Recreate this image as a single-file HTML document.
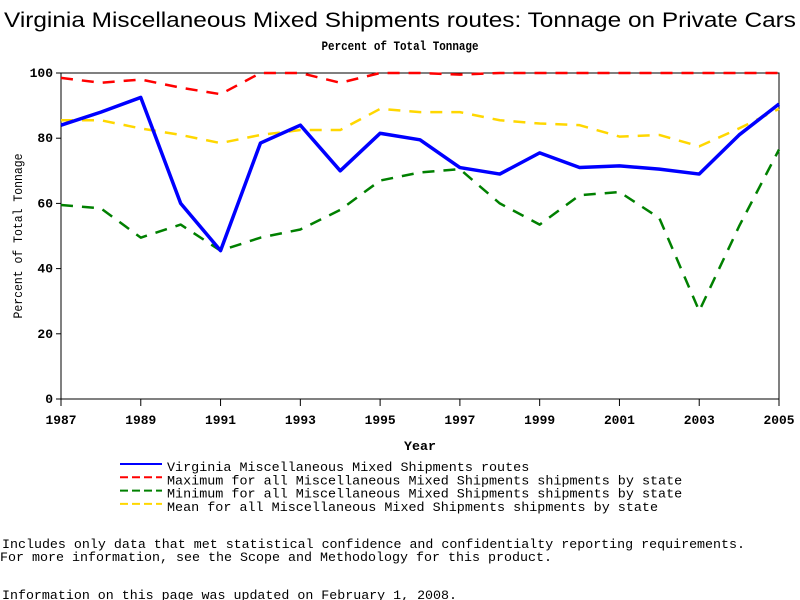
<!DOCTYPE html>
<html><head><meta charset="utf-8"><style>
body{margin:0;background:#fff;}
svg{display:block;}
text{font-family:"Liberation Sans",sans-serif;fill:#000;}
.m{font-family:"Liberation Mono",monospace;font-size:13px;}
</style></head><body>
<svg id="chart" width="800" height="600">
<text x="400" y="27" text-anchor="middle" font-size="21" textLength="792" lengthAdjust="spacingAndGlyphs">Virginia Miscellaneous Mixed Shipments routes: Tonnage on Private Cars</text>
<text x="400" y="50" text-anchor="middle" class="m" font-size="12" font-weight="bold" textLength="157" lengthAdjust="spacingAndGlyphs">Percent of Total Tonnage</text>
<g id="axes"></g>
<g id="series"></g>
<text x="420" y="450" text-anchor="middle" class="m" font-weight="bold" textLength="32" lengthAdjust="spacingAndGlyphs">Year</text>
<text transform="translate(22,236) rotate(-90)" text-anchor="middle" class="m" textLength="165" lengthAdjust="spacingAndGlyphs">Percent of Total Tonnage</text>
<g id="legend"></g>
<text x="2" y="548" class="m" textLength="743" lengthAdjust="spacingAndGlyphs">Includes only data that met statistical confidence and confidentialty reporting requirements.</text>
<text x="0" y="561" class="m" textLength="552" lengthAdjust="spacingAndGlyphs">For more information, see the Scope and Methodology for this product.</text>
<text x="2" y="599" class="m" textLength="455" lengthAdjust="spacingAndGlyphs">Information on this page was updated on February 1, 2008.</text>
</svg>
<script>
const years=[1987,1988,1989,1990,1991,1992,1993,1994,1995,1996,1997,1998,1999,2000,2001,2002,2003,2004,2005];
const xTicks=[1987,1989,1991,1993,1995,1997,1999,2001,2003,2005];
const yTicks=[0,20,40,60,80,100];
const virginia=[84,88,92.5,60,45.5,78.5,84,70,81.5,79.5,71,69,75.5,71,71.5,70.5,69,81,90.5];
const maxVals=[98.5,97,98,95.5,93.5,100,100,97,100,100,99.5,100,100,100,100,100,100,100,100];
const minVals=[59.5,58.5,49.5,53.5,45.5,49.5,52,58,67,69.5,70.5,60,53.5,62.5,63.5,55.5,27,53,76.5];
const meanVals=[85.5,85.5,83,81,78.5,81,82.5,82.5,89,88,88,85.5,84.5,84,80.5,81,77.5,83,89];
const legendLabels=["Virginia Miscellaneous Mixed Shipments routes","Maximum for all Miscellaneous Mixed Shipments shipments by state","Minimum for all Miscellaneous Mixed Shipments shipments by state","Mean for all Miscellaneous Mixed Shipments shipments by state"];
const NS="http://www.w3.org/2000/svg";
const X0=61,X1=779,Y0=399,Y1=73;
const xs=y=>X0+(y-1987)*(X1-X0)/18;
const ys=v=>Y0-v*(Y0-Y1)/100;
function mk(tag,attrs,parent){const e=document.createElementNS(NS,tag);for(const k in attrs)e.setAttribute(k,attrs[k]);parent.appendChild(e);return e;}
const axes=document.getElementById('axes');
const frame=mk('rect',{x:X0,y:Y1,width:X1-X0,height:Y0-Y1,fill:'none',stroke:'#000','stroke-width':1},axes);


yTicks.forEach(v=>{
 const t=mk('line',{x1:X0-5,x2:X0,y1:ys(v),y2:ys(v),stroke:'#000'},axes);
 
 
 const l=mk('text',{x:X0-8,y:ys(v)+4,'text-anchor':'end',class:'m','font-weight':'bold'},axes);
 l.textContent=v;
 
 
});
xTicks.forEach(v=>{
 const t=mk('line',{x1:xs(v),x2:xs(v),y1:Y0,y2:Y0+7,stroke:'#000'},axes);
 
 
 const l=mk('text',{x:xs(v),y:Y0+25,'text-anchor':'middle',class:'m','font-weight':'bold',textLength:31,lengthAdjust:'spacingAndGlyphs'},axes);
 l.textContent=v;
 
 
});
const ser=document.getElementById('series');
const defs=[
 {d:minVals,c:'#008000',w:2.5,dash:'12 9',n:'min-line'},
 {d:meanVals,c:'#ffd700',w:2.5,dash:'12 9',n:'mean-line'},
 {d:maxVals,c:'#ff0000',w:2.5,dash:'12 9',n:'max-line'},
 {d:virginia,c:'#0000ff',w:3.5,dash:'',n:'virginia-line'}];
defs.forEach(s=>{
 const pts=s.d.map((v,i)=>xs(years[i])+','+ys(v)).join(' ');
 const p=mk('polyline',{points:pts,fill:'none',stroke:s.c,'stroke-width':s.w,'stroke-dasharray':s.dash,'stroke-linejoin':'round'},ser);
 
 
});
const lg=document.getElementById('legend');
const lc=['#0000ff','#ff0000','#008000','#ffd700'];
legendLabels.forEach((t,i)=>{
 const y=468+i*13.3;
 const ln=mk('line',{x1:120,x2:162,y1:y-4,y2:y-4,stroke:lc[i],'stroke-width':2,'stroke-dasharray':i?'8 4':''},lg);
 
 
 const tx=mk('text',{x:167,y:y+3,class:'m',textLength:t.length*8.05,lengthAdjust:'spacingAndGlyphs'},lg);
 tx.textContent=t;
 
 
});
</script>
</body></html>
